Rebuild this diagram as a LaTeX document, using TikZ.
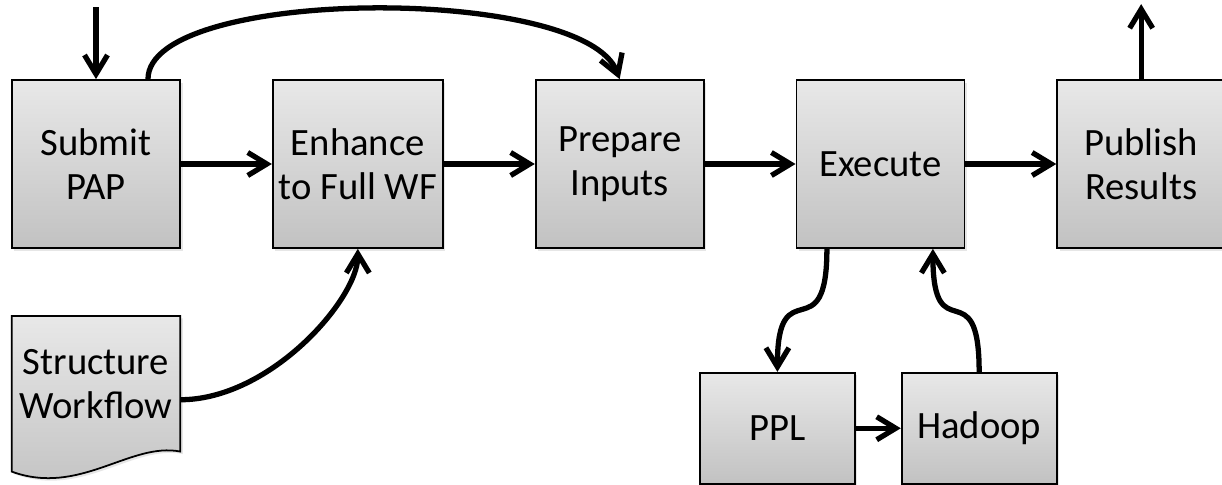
\documentclass[tikz,border=0pt]{standalone}
\usepackage{fontspec}
\setmainfont{Carlito}
\usetikzlibrary{positioning, arrows.meta, shadows, backgrounds}

\tikzset{
  shade box/.style={line width=1pt, top color=gray!18, bottom color=gray!48,
    drop shadow={opacity=0.2, shadow xshift=0.5mm, shadow yshift=-0.5mm}},
  stage/.style={draw, shade box, minimum width=3.36cm, minimum height=3.36cm,
    align=center, font=\fontsize{22}{25}\selectfont},
  small stage/.style={stage, minimum width=3.1cm, minimum height=2.22cm},
  doc text/.style={minimum width=3.36cm, minimum height=2.7cm, align=center,
    font=\fontsize{22}{25}\selectfont},
  flow/.style={line width=3pt, -{Straight Barb[length=3.8mm, width=4.6mm]}},
}

\begin{document}
\begin{tikzpicture}[node distance=1.82cm]
	\useasboundingbox (0,0) rectangle (24.44,-9.7);
	\node[stage]                                      (submit)    at (1.92,-3.28) {Submit\\PAP};
	\node[stage, right=of submit]                     (enhance)   {Enhance\\to Full WF};
	\node[stage, right=of enhance]                    (prepare)   {Prepare\\Inputs};
	\node[stage, right=of prepare]                    (execute)   {Execute};
	\node[stage, right=of execute]                    (publish)   {Publish\\Results};
	\node[small stage, below=2.46cm of execute, xshift=-2.06cm] (ppl)    {PPL};
	\node[small stage, right=0.9cm of ppl]            (hadoop)    {Hadoop};
	\node[doc text, below=1.34cm of submit]           (structure) {Structure\\Workflow};

	% document shape behind its text
	\begin{pgfonlayer}{background}
		\draw[shade box] (structure.north west) -- (structure.north east) -- (structure.south east)
			.. controls +(-1cm,0.2cm) and +(1.36cm,-0.5cm) .. ([yshift=-0.4cm]structure.south west) -- cycle;
	\end{pgfonlayer}

	\coordinate[above=1.44cm of submit.north]  (entry);
	\coordinate[above=1.5cm of publish.north]  (exit);

	\draw[flow] (entry) -- (submit);
	\draw[flow] (submit) -- (enhance);
	\draw[flow] (enhance) -- (prepare);
	\draw[flow] (prepare) -- (execute);
	\draw[flow] (execute) -- (publish);
	\draw[flow] (publish) -- (exit);
	\draw[flow] (ppl) -- (hadoop);

	\draw[flow] ([xshift=1.04cm]submit.north) .. controls +(0,1.85cm) and +(-0.7cm,1.9cm) .. (prepare.north);
	\draw[flow] ([yshift=-0.32cm]structure.east) .. controls +(1.8cm,0) and +(0,-1cm) .. (enhance.south);
	\draw[flow] ([xshift=-1.07cm]execute.south) .. controls +(0,-2.1cm) and +(0,2.1cm) .. (ppl.north);
	\draw[flow] (hadoop.north) .. controls +(0,2.1cm) and +(0,-2.1cm) .. ([xshift=1.05cm]execute.south);
\end{tikzpicture}
\end{document}
